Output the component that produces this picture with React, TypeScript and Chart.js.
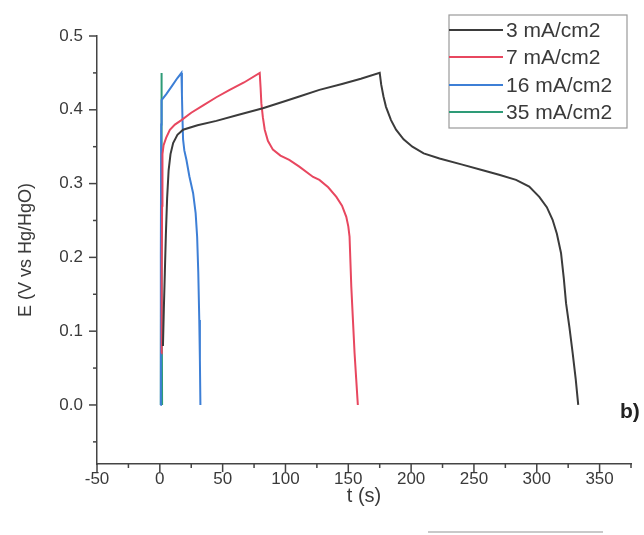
import React, { useEffect, useRef } from "react";
import { Chart, registerables } from "chart.js";

Chart.register(...registerables);

// ---- data ----
const seriesLabels = ["3 mA/cm2", "7 mA/cm2", "16 mA/cm2", "35 mA/cm2"];
const seriesColors = ["#3b3b3b", "#e8475f", "#3d7fd6", "#2e9b77"];

// 3 mA/cm2
const t3 = [2.5, 3.2, 4.0, 4.8, 5.8, 7.0, 8.5, 10.6, 14, 18.5, 30, 45, 62, 82, 100, 111, 127, 145, 160, 175, 176.2, 178, 180, 184, 188, 194, 201, 210, 222.6, 240, 257, 270, 283.5, 294, 302, 308, 312.6, 316, 319.3, 321.5, 323.3, 326, 328.6, 331, 333];
const e3 = [0.08, 0.13, 0.18, 0.23, 0.28, 0.318, 0.34, 0.355, 0.366, 0.373, 0.379, 0.385, 0.393, 0.402, 0.412, 0.418, 0.427, 0.435, 0.442, 0.45, 0.434, 0.418, 0.404, 0.386, 0.373, 0.36, 0.35, 0.341, 0.334, 0.326, 0.318, 0.312, 0.305, 0.296, 0.282, 0.268, 0.251, 0.232, 0.206, 0.172, 0.138, 0.105, 0.07, 0.035, 0];

// 7 mA/cm2
const t7 = [1.2, 1.5, 1.8, 2.1, 3, 5, 8, 12, 17.2, 25, 34.5, 45, 55.6, 67, 79.5, 80.2, 80.8, 82, 83.5, 86, 90, 96, 103, 111, 122, 127, 134, 140.5, 145, 148.4, 150, 151, 152.4, 153.7, 155, 156.3, 157.6];
const e7 = [0.07, 0.17, 0.27, 0.34, 0.352, 0.362, 0.373, 0.38, 0.386, 0.396, 0.406, 0.417, 0.427, 0.437, 0.45, 0.43, 0.409, 0.39, 0.373, 0.358, 0.346, 0.338, 0.332, 0.323, 0.309, 0.305, 0.295, 0.282, 0.27, 0.255, 0.242, 0.228, 0.16, 0.115, 0.07, 0.035, 0];

// 16 mA/cm2
const t16 = [0.5, 0.8, 1.1, 1.4, 5, 10, 14, 17.2, 17.6, 18, 18.5, 19.5, 21.2, 23.5, 26.5, 28.5, 29.7, 30.6, 31.4, 31.9, 32.3];
const e16 = [0, 0.2, 0.38, 0.413, 0.421, 0.433, 0.443, 0.45, 0.42, 0.39, 0.36, 0.345, 0.332, 0.31, 0.287, 0.26, 0.228, 0.18, 0.115, 0.06, 0];

// 35 mA/cm2
const t35 = [0.8, 1.0, 1.2, 1.4, 1.6, 1.8];
const e35 = [0, 0.2, 0.45, 0.4, 0.2, 0];

// axis ticks
const xMajorTicks = [-50, 0, 50, 100, 150, 200, 250, 300, 350];
const xMinorTicks = [-25, 25, 75, 125, 175, 225, 275, 325, 375];
const yMajorTicks = [0.0, 0.1, 0.2, 0.3, 0.4, 0.5];
const yMinorTicks = [-0.05, 0.05, 0.15, 0.25, 0.35, 0.45];
const xMin = -50;
const xMax = 375;
const yMin = -0.08;
const yMax = 0.5;

const xTitle = "t (s)";
const yTitle = "E (V vs Hg/HgO)";
const panelLabel = "b)";

const FONT = "'Liberation Sans', Arial, sans-serif";
const TEXT = "#3a3a3a";
const AXIS = "#444444";

const toPoints = (ts: number[], es: number[]) => ts.map((t, i) => ({ x: t, y: es[i] }));

const decorPlugin = {
  id: "decor",
  afterDraw(chart: any) {
    const { ctx } = chart;
    const x = chart.scales.x;
    const y = chart.scales.y;
    ctx.save();
    ctx.strokeStyle = AXIS;
    ctx.lineWidth = 1.5;
    const axisY = chart.chartArea.bottom;
    const axisX = chart.chartArea.left;
    const tick = (x1: number, y1: number, x2: number, y2: number) => {
      ctx.beginPath();
      ctx.moveTo(x1, y1);
      ctx.lineTo(x2, y2);
      ctx.stroke();
    };
    xMajorTicks.forEach((v) => { const p = x.getPixelForValue(v); tick(p, axisY, p, axisY + 8); });
    xMinorTicks.forEach((v) => { const p = x.getPixelForValue(v); tick(p, axisY, p, axisY + 4); });
    yMajorTicks.forEach((v) => { const p = y.getPixelForValue(v); tick(axisX - 8, p, axisX, p); });
    yMinorTicks.forEach((v) => { const p = y.getPixelForValue(v); tick(axisX - 4, p, axisX, p); });

    // legend box
    const lx = 449, ly = 15, lw = 178, lh = 113;
    ctx.fillStyle = "#ffffff";
    ctx.fillRect(lx, ly, lw, lh);
    ctx.strokeStyle = "#9a9a9a";
    ctx.lineWidth = 1.2;
    ctx.strokeRect(lx, ly, lw, lh);
    const rowY = [30, 57, 85, 112];
    chart.data.datasets.forEach((ds: any, i: number) => {
      ctx.strokeStyle = ds.borderColor;
      ctx.lineWidth = 2.2;
      ctx.beginPath();
      ctx.moveTo(lx, rowY[i]);
      ctx.lineTo(lx + 54, rowY[i]);
      ctx.stroke();
      ctx.fillStyle = TEXT;
      ctx.font = `21px ${FONT}`;
      ctx.textBaseline = "middle";
      ctx.textAlign = "left";
      ctx.fillText(ds.label, lx + 57, rowY[i] + 1);
    });

    // panel label
    ctx.fillStyle = "#222";
    ctx.font = `bold 21px ${FONT}`;
    ctx.textBaseline = "middle";
    ctx.fillText(panelLabel, 620, 412);

    // faint scan line at the bottom
    ctx.strokeStyle = "#c9c9c9";
    ctx.lineWidth = 2;
    ctx.beginPath();
    ctx.moveTo(428, 532);
    ctx.lineTo(603, 532);
    ctx.stroke();
    ctx.restore();
  },
};

export default function App() {
  const ref = useRef<HTMLCanvasElement | null>(null);
  useEffect(() => {
    document.body.style.margin = "0";
    const canvas = ref.current;
    if (!canvas) return;
    const series = [
      [t3, e3],
      [t7, e7],
      [t16, e16],
      [t35, e35],
    ];
    const chart = new Chart(canvas, {
      type: "line",
      data: {
        datasets: series.map(([ts, es], i) => ({
          label: seriesLabels[i],
          data: toPoints(ts, es),
          borderColor: seriesColors[i],
          backgroundColor: seriesColors[i],
          borderWidth: 2,
          pointRadius: 0,
          tension: 0,
          fill: false,
        })),
      },
      options: {
        animation: false,
        responsive: false,
        maintainAspectRatio: false,
        parsing: false as any,
        layout: { padding: { left: 0, top: 36, right: 13, bottom: 0 } },
        plugins: { legend: { display: false }, tooltip: { enabled: false }, title: { display: false } },
        scales: {
          x: {
            type: "linear",
            min: xMin,
            max: xMax,
            afterBuildTicks: (s: any) => { s.ticks = xMajorTicks.map((v) => ({ value: v })); },
            afterFit: (s: any) => { s.height = 71; },
            grid: { display: true, drawOnChartArea: false, drawTicks: false },
            border: { display: true, color: AXIS, width: 1.5 },
            ticks: { color: TEXT, font: { family: FONT, size: 17 }, padding: 5, maxRotation: 0, autoSkip: false },
            title: { display: true, text: xTitle, color: TEXT, font: { family: FONT, size: 20 }, padding: { top: 0, bottom: 27 } },
          },
          y: {
            type: "linear",
            min: yMin,
            max: yMax,
            afterBuildTicks: (s: any) => { s.ticks = yMajorTicks.map((v) => ({ value: v })); },
            afterFit: (s: any) => { s.width = 97; },
            grid: { display: true, drawOnChartArea: false, drawTicks: false },
            border: { display: true, color: AXIS, width: 1.5 },
            ticks: { color: TEXT, font: { family: FONT, size: 17 }, padding: 14, callback: (v: any) => Number(v).toFixed(1) },
            title: { display: true, text: yTitle, color: TEXT, font: { family: FONT, size: 18 }, padding: { top: 15, bottom: 0 } },
          },
        },
      },
      plugins: [decorPlugin],
    });
    return () => chart.destroy();
  }, []);
  return (
    <div style={{ width: 644, height: 535, background: "#fff" }}>
      <canvas ref={ref} width={644} height={535} style={{ display: "block", width: 644, height: 535 }} />
    </div>
  );
}
